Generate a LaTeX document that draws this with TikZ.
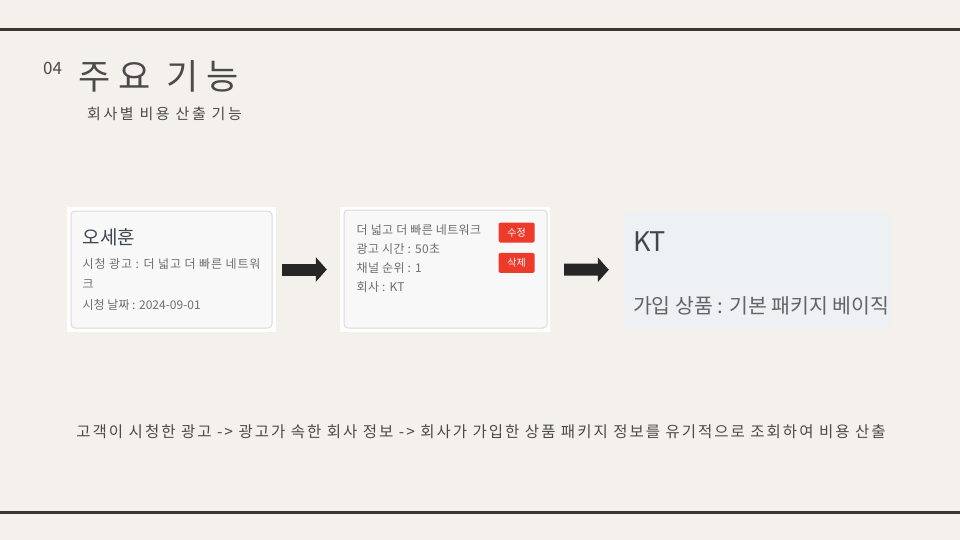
\documentclass[tikz,border=0pt]{standalone}
\usepackage{fontspec}
\setmainfont{Noto Sans CJK KR}
\usetikzlibrary{arrows.meta,positioning}
\definecolor{bg}{HTML}{F4F1EC}
\definecolor{linec}{HTML}{3C3631}
\definecolor{textc}{HTML}{4A4A4A}
\definecolor{cardfill}{HTML}{F8F8F8}
\definecolor{cardline}{HTML}{DADADA}
\definecolor{graytext}{HTML}{6E6E6E}
\definecolor{darktext}{HTML}{3E4650}
\definecolor{btnred}{HTML}{EC3B2B}
\definecolor{boxfill}{HTML}{EEF1F3}
\definecolor{arrowc}{HTML}{262626}
\newcommand{\fs}[1]{\fontsize{#1}{#1}\selectfont}
\newcommand{\ls}[1]{\addfontfeature{LetterSpace=#1}}

\begin{document}
\begin{tikzpicture}[x=1pt,y=-1pt,
  shot/.style={fill=white,minimum width=209pt,minimum height=125pt,inner sep=0pt},
  card/.style={draw=cardline,fill=cardfill,rounded corners=4pt,line width=1pt,
    minimum width=201pt,minimum height=117pt,inner sep=0pt},
  txt/.style={anchor=base west,inner sep=0pt,text=graytext,font=\fs{12}\ls{7}},
  btn/.style={fill=btnred,text=white,font=\fs{10},minimum width=36pt,
    minimum height=20pt,inner sep=0pt,rounded corners=1.5pt},
  flow/.style={line width=12pt,draw=arrowc,-{Triangle[length=11pt,width=24pt]}}]
  \useasboundingbox[fill=bg] (0,0) rectangle (960,540);
  % Linjer
  \draw[line width=3.5pt,draw=linec] (0,29.5) -- (960,29.5);
  \draw[line width=3.5pt,draw=linec] (0,512.5) -- (960,512.5);
  % Rubrik
  \node[anchor=base west,inner sep=0pt,text=textc,font=\fs{17}] (num) at (43,75) {04};
  \node[anchor=base west,inner sep=0pt,text=textc,font=\fs{35}\ls{23}] (title) at (78,90) {주요 기능};
  \node[anchor=base west,inner sep=0pt,text=textc,font=\fs{15}\ls{17}] (sub) at (87,120) {회사별 비용 산출 기능};
  % Kort 1
  \node[shot] (shot1) at (171.5,269.5) {};
  \node[card] (card1) at (171.5,269.5) {};
  \node[txt,text=darktext,font=\fs{19}] (name) at ([shift={(12,34)}]card1.north west) {오세훈};
  \node[txt] (ad) at ([shift={(12,58)}]card1.north west) {시청 광고 : 더 넓고 더 빠른 네트워};
  \node[txt] (ad2) at ([shift={(12,78)}]card1.north west) {크};
  \node[txt,font=\fs{12}] (date) at ([shift={(12,99)}]card1.north west) {시청 날짜 : 2024-09-01};
  % Kort 2
  \node[shot,minimum width=210pt] (shot2) at (445,269.5) {};
  \node[card,minimum width=203pt,minimum height=118pt] (card2) at (445.5,269) {};
  \node[txt,font=\fs{12}\ls{3}] (adname) at ([shift={(13,25)}]card2.north west) {더 넓고 더 빠른 네트워크};
  \node[txt,font=\fs{12}\ls{3}] (time) at ([shift={(13,44)}]card2.north west) {광고 시간 : 50초};
  \node[txt,font=\fs{12}\ls{3}] (rank) at ([shift={(13,63)}]card2.north west) {채널 순위 : 1};
  \node[txt,font=\fs{12}\ls{3}] (comp) at ([shift={(13,82)}]card2.north west) {회사 : KT};
  \node[btn] (edit) at ([shift={(-31,23)}]card2.north east) {수정};
  \node[btn,below=10pt of edit] (del) {삭제};
  % Ruta 3
  \node[fill=boxfill,minimum width=266pt,minimum height=116pt,inner sep=0pt] (box3) at (757,270) {};
  \node[txt,text=darktext,font=\fs{27}] (kt) at ([shift={(9,40)}]box3.north west) {KT};
  \node[txt,text=graytext!90!black,font=\fs{20.5}] (prod) at ([shift={(9,102)}]box3.north west) {가입 상품 : 기본 패키지 베이직};
  % Pilar
  \draw[flow,shorten <=6pt,shorten >=13pt] (shot1) -- (shot2);
  \draw[flow,shorten <=14pt,shorten >=15pt] (shot2) -- (box3);
  % Text
  \node[anchor=base,inner sep=0pt,text=textc,font=\fs{15.5}\ls{13}] (desc) at (481,437)
    {고객이 시청한 광고 -> 광고가 속한 회사 정보 -> 회사가 가입한 상품 패키지 정보를 유기적으로 조회하여 비용 산출};
\end{tikzpicture}
\end{document}
